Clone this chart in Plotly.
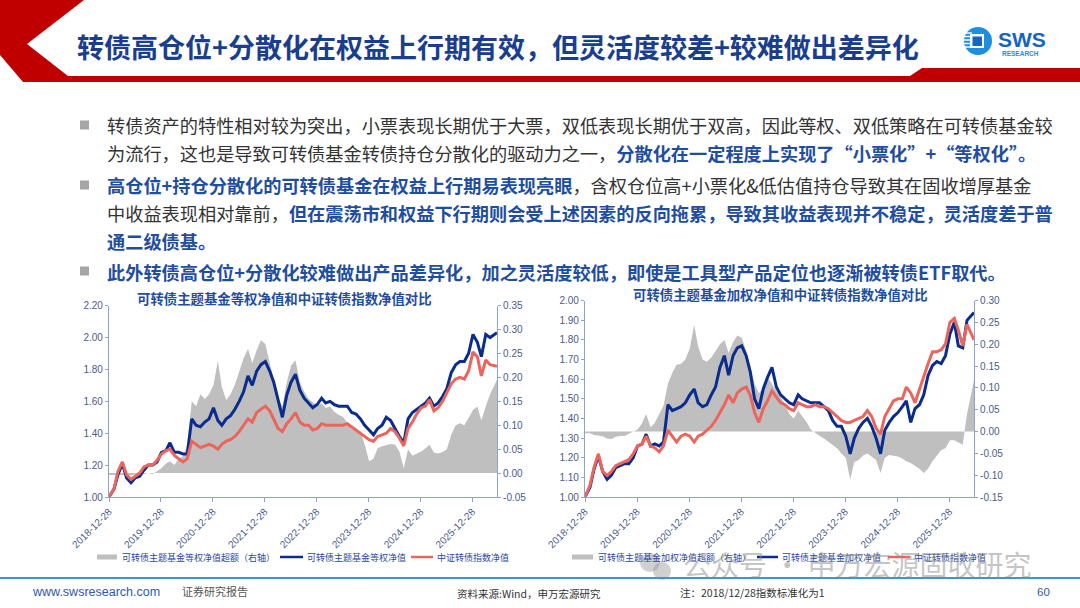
import plotly.graph_objects as go

W, H = 1080, 608


def X(px):
    return px / W


def Y(py):
    return 1 - py / H


# ---- data (month starts, 2018-12-28 = 1) ----
dates = [
    "2018-12-28",
    "2019-02", "2019-03", "2019-04", "2019-05", "2019-06", "2019-07", "2019-08", "2019-09", "2019-10", "2019-11", "2019-12",
    "2020-01", "2020-02", "2020-03", "2020-04", "2020-05", "2020-06", "2020-07", "2020-08", "2020-09", "2020-10", "2020-11", "2020-12",
    "2021-01", "2021-02", "2021-03", "2021-04", "2021-05", "2021-06", "2021-07", "2021-08", "2021-09", "2021-10", "2021-11", "2021-12",
    "2022-01", "2022-02", "2022-03", "2022-04", "2022-05", "2022-06", "2022-07", "2022-08", "2022-09", "2022-10", "2022-11", "2022-12",
    "2023-01", "2023-02", "2023-03", "2023-04", "2023-05", "2023-06", "2023-07", "2023-08", "2023-09", "2023-10", "2023-11", "2023-12",
    "2024-01", "2024-02", "2024-03", "2024-04", "2024-05", "2024-06", "2024-07", "2024-08", "2024-09", "2024-10", "2024-11", "2024-12",
    "2025-01", "2025-02", "2025-03", "2025-04", "2025-05", "2025-06", "2025-07", "2025-08", "2025-09", "2025-10", "2025-11", "2025-12",
    "2026-01", "2026-02", "2026-03", "2026-04", "2026-05",
    "2026-06-19",
]

eq_nav = [
    1.00, 1.05, 1.14, 1.21, 1.12, 1.09, 1.12, 1.13, 1.17, 1.20,
    1.20, 1.22, 1.28, 1.29, 1.34, 1.28, 1.28, 1.27, 1.27, 1.49,
    1.45, 1.44, 1.47, 1.49, 1.56, 1.48, 1.45, 1.49, 1.51, 1.55,
    1.60, 1.66, 1.76, 1.70, 1.79, 1.83, 1.85, 1.79, 1.72, 1.60,
    1.50, 1.64, 1.72, 1.77, 1.67, 1.62, 1.59, 1.56, 1.58, 1.62,
    1.59, 1.60, 1.58, 1.57, 1.57, 1.57, 1.53, 1.52, 1.49, 1.45,
    1.42, 1.39, 1.43, 1.45, 1.50, 1.48, 1.43, 1.38, 1.34, 1.49,
    1.53, 1.55, 1.57, 1.59, 1.62, 1.57, 1.59, 1.63, 1.68, 1.78,
    1.83, 1.85, 1.85, 1.90, 2.02, 1.97, 1.88, 2.02, 2.00, 2.03,
]
idx_nav_l = [
    1.00, 1.05, 1.16, 1.22, 1.14, 1.11, 1.13, 1.15, 1.19, 1.20,
    1.20, 1.23, 1.27, 1.29, 1.30, 1.26, 1.24, 1.22, 1.24, 1.35,
    1.33, 1.31, 1.32, 1.33, 1.32, 1.30, 1.33, 1.35, 1.36, 1.38,
    1.41, 1.45, 1.49, 1.47, 1.53, 1.55, 1.57, 1.54, 1.49, 1.43,
    1.41, 1.46, 1.49, 1.53, 1.47, 1.45, 1.45, 1.42, 1.43, 1.46,
    1.45, 1.45, 1.45, 1.45, 1.45, 1.46, 1.44, 1.42, 1.40, 1.38,
    1.36, 1.35, 1.38, 1.39, 1.40, 1.43, 1.41, 1.37, 1.32, 1.43,
    1.47, 1.52, 1.56, 1.57, 1.61, 1.54, 1.56, 1.60, 1.65, 1.71,
    1.74, 1.75, 1.74, 1.79, 1.91, 1.88, 1.76, 1.86, 1.83, 1.82,
]
eq_excess = [
    -0.004, -0.004, -0.004, -0.003, -0.004, -0.005, -0.003, 0.000, -0.002, 0.000,
    -0.002, 0.004, 0.010, 0.020, 0.025, 0.017, 0.030, 0.035, 0.060, 0.150,
    0.140, 0.165, 0.155, 0.165, 0.184, 0.235, 0.180, 0.153, 0.165, 0.185,
    0.210, 0.240, 0.260, 0.230, 0.257, 0.278, 0.270, 0.230, 0.200, 0.155,
    0.140, 0.190, 0.225, 0.236, 0.190, 0.170, 0.155, 0.148, 0.142, 0.146,
    0.136, 0.139, 0.128, 0.122, 0.118, 0.105, 0.092, 0.090, 0.088, 0.060,
    0.025, 0.030, 0.052, 0.056, 0.059, 0.061, 0.060, 0.045, 0.010, 0.050,
    0.036, 0.040, 0.045, 0.052, 0.059, 0.043, 0.041, 0.044, 0.050, 0.080,
    0.100, 0.104, 0.100, 0.115, 0.132, 0.139, 0.110, 0.140, 0.165, 0.195,
]

wt_nav = [
    1.00, 1.05, 1.14, 1.21, 1.13, 1.09, 1.11, 1.15, 1.16, 1.17,
    1.17, 1.20, 1.26, 1.27, 1.32, 1.26, 1.27, 1.26, 1.28, 1.47,
    1.44, 1.45, 1.46, 1.48, 1.52, 1.55, 1.48, 1.46, 1.47, 1.52,
    1.56, 1.66, 1.72, 1.62, 1.72, 1.76, 1.77, 1.72, 1.64, 1.50,
    1.45, 1.55, 1.61, 1.66, 1.56, 1.52, 1.50, 1.48, 1.47, 1.52,
    1.50, 1.49, 1.48, 1.48, 1.48, 1.46, 1.44, 1.39, 1.36, 1.36,
    1.31, 1.22, 1.30, 1.35, 1.38, 1.40, 1.36, 1.30, 1.22, 1.34,
    1.38, 1.41, 1.43, 1.46, 1.49, 1.38, 1.45, 1.47, 1.52, 1.62,
    1.67, 1.69, 1.68, 1.72, 1.83, 1.89, 1.77, 1.76, 1.90, 1.94,
]
idx_nav_r = [
    1.00, 1.06, 1.15, 1.22, 1.13, 1.11, 1.13, 1.16, 1.17, 1.18,
    1.19, 1.22, 1.26, 1.27, 1.31, 1.26, 1.25, 1.23, 1.26, 1.34,
    1.31, 1.28, 1.31, 1.32, 1.31, 1.28, 1.31, 1.32, 1.34, 1.36,
    1.39, 1.43, 1.47, 1.52, 1.48, 1.53, 1.55, 1.56, 1.52, 1.43,
    1.38, 1.45, 1.49, 1.54, 1.51, 1.48, 1.47, 1.45, 1.44, 1.48,
    1.47, 1.46, 1.46, 1.47, 1.46, 1.46, 1.45, 1.43, 1.41, 1.39,
    1.38, 1.38, 1.39, 1.40, 1.41, 1.44, 1.41, 1.35, 1.32, 1.41,
    1.45, 1.49, 1.50, 1.50, 1.56, 1.53, 1.48, 1.55, 1.61, 1.68,
    1.74, 1.74, 1.75, 1.78, 1.89, 1.91, 1.85, 1.77, 1.88, 1.80,
]
wt_excess = [
    -0.004, -0.004, -0.008, -0.010, -0.011, -0.016, -0.017, -0.012, -0.010, -0.010,
    -0.005, 0.000, 0.005, 0.019, 0.040, 0.010, 0.020, 0.040, 0.060, 0.110,
    0.135, 0.153, 0.155, 0.165, 0.190, 0.245, 0.195, 0.165, 0.160, 0.170,
    0.185, 0.200, 0.210, 0.180, 0.205, 0.220, 0.215, 0.185, 0.150, 0.110,
    0.088, 0.100, 0.125, 0.110, 0.095, 0.080, 0.063, 0.040, 0.030, 0.048,
    0.036, 0.022, 0.005, -0.003, -0.010, -0.016, -0.024, -0.030, -0.038, -0.050,
    -0.060, -0.110, -0.070, -0.065, -0.055, -0.050, -0.057, -0.065, -0.095, -0.060,
    -0.054, -0.055, -0.057, -0.062, -0.068, -0.072, -0.078, -0.085, -0.095, -0.085,
    -0.068, -0.055, -0.042, -0.038, -0.020, -0.020, -0.025, -0.030, 0.040, 0.118,
]

x_ticks = ["2018-12-28", "2019-12-28", "2020-12-28", "2021-12-28",
           "2022-12-28", "2023-12-28", "2024-12-28", "2025-12-28"]

l_nav_ticks = [1.0, 1.2, 1.4, 1.6, 1.8, 2.0, 2.2]
l_nav_text = ["1.00", "1.20", "1.40", "1.60", "1.80", "2.00", "2.20"]
l_exc_ticks = [-0.05, 0.0, 0.05, 0.10, 0.15, 0.20, 0.25, 0.30, 0.35]
l_exc_text = ["-0.05", "0.00", "0.05", "0.10", "0.15", "0.20", "0.25", "0.30", "0.35"]

r_nav_ticks = [1.0, 1.1, 1.2, 1.3, 1.4, 1.5, 1.6, 1.7, 1.8, 1.9, 2.0]
r_nav_text = ["1.00", "1.10", "1.20", "1.30", "1.40", "1.50", "1.60", "1.70", "1.80", "1.90", "2.00"]
r_exc_ticks = [-0.15, -0.10, -0.05, 0.0, 0.05, 0.10, 0.15, 0.20, 0.25, 0.30]
r_exc_text = ["-0.15", "-0.10", "-0.05", "0.00", "0.05", "0.10", "0.15", "0.20", "0.25", "0.30"]

left_names = ["可转债主题基金等权净值超额（右轴）", "可转债主题基金等权净值", "中证转债指数净值"]
right_names = ["可转债主题基金加权净值超额（右轴）", "可转债主题基金加权净值", "中证转债指数净值"]

NAVY = "#0A2C8C"
SALMON = "#EC655D"
GREY = "#BFBFBF"
TXT_BLUE = "#1F4E9E"
AXIS = "#8FA2CE"
TICK = "#4A5B8E"
FONT = "Noto Sans CJK SC"

fig = go.Figure()

# left chart: excess area on y (right side), lines on y2 (left side, drawn on top)
fig.add_trace(go.Scatter(x=dates, y=eq_excess, name=left_names[0], mode="lines",
                         line=dict(width=0, color=GREY), fill="tozeroy", fillcolor=GREY,
                         xaxis="x", yaxis="y"))
fig.add_trace(go.Scatter(x=dates, y=eq_nav, name=left_names[1], mode="lines",
                         line=dict(color=NAVY, width=3), xaxis="x", yaxis="y2"))
fig.add_trace(go.Scatter(x=dates, y=idx_nav_l, name=left_names[2], mode="lines",
                         line=dict(color=SALMON, width=3), xaxis="x", yaxis="y2"))

# right chart
fig.add_trace(go.Scatter(x=dates, y=wt_excess, name=right_names[0], mode="lines",
                         line=dict(width=0, color=GREY), fill="tozeroy", fillcolor=GREY,
                         xaxis="x2", yaxis="y3"))
fig.add_trace(go.Scatter(x=dates, y=wt_nav, name=right_names[1], mode="lines",
                         line=dict(color=NAVY, width=3), xaxis="x2", yaxis="y4"))
fig.add_trace(go.Scatter(x=dates, y=idx_nav_r, name=right_names[2], mode="lines",
                         line=dict(color=SALMON, width=3), xaxis="x2", yaxis="y4"))

tickfont = dict(family="Liberation Sans", size=10, color=TICK)
xcommon = dict(type="date", range=["2018-12-28", "2026-06-19"], tickvals=x_ticks, ticktext=x_ticks,
               tickangle=-45, showline=True, linecolor=AXIS, linewidth=1.2, ticks="outside",
               ticklen=4, tickcolor=AXIS, showgrid=False, zeroline=False, tickfont=tickfont,
               automargin=False)
ycommon = dict(showline=True, linecolor=AXIS, linewidth=1.2, ticks="outside", ticklen=3,
               tickcolor=AXIS, showgrid=False, zeroline=False, tickfont=tickfont,
               automargin=False)

fig.update_layout(
    xaxis=dict(domain=[X(109), X(497)], anchor="y", **xcommon),
    yaxis=dict(domain=[Y(497), Y(305.7)], anchor="x", side="right", range=[-0.05, 0.35],
               tickvals=l_exc_ticks, ticktext=l_exc_text, **ycommon),
    yaxis2=dict(overlaying="y", anchor="x", side="left", range=[1.0, 2.2],
                tickvals=l_nav_ticks, ticktext=l_nav_text, **ycommon),
    xaxis2=dict(domain=[X(585), X(974)], anchor="y3", **xcommon),
    yaxis3=dict(domain=[Y(497), Y(300.7)], anchor="x2", side="right", range=[-0.15, 0.30],
                tickvals=r_exc_ticks, ticktext=r_exc_text, **ycommon),
    yaxis4=dict(overlaying="y3", anchor="x2", side="left", range=[1.0, 2.0],
                tickvals=r_nav_ticks, ticktext=r_nav_text, **ycommon),
    showlegend=False,
)

shapes = []
# header red band with chevron
red_pts = [(0, 0), (84, 0), (27, 44), (68, 76), (910, 76), (922, 68), (1080, 68),
           (1080, 82), (23, 82), (0, 55)]
path = "M " + " L ".join(f"{X(a):.5f},{Y(b):.5f}" for a, b in red_pts) + " Z"
shapes.append(dict(type="path", xref="paper", yref="paper", path=path,
                   fillcolor="#C00000", line=dict(width=0), layer="below"))

# SWS logo
shapes.append(dict(type="circle", xref="paper", yref="paper", x0=X(964), x1=X(992),
                   y0=Y(55), y1=Y(27), fillcolor="#1E8FE0", line=dict(width=0)))
for yy in [33, 36.5, 40, 43.5, 47]:
    shapes.append(dict(type="line", xref="paper", yref="paper", x0=X(964), x1=X(972),
                       y0=Y(yy), y1=Y(yy), line=dict(color="white", width=1.4)))
shapes.append(dict(type="rect", xref="paper", yref="paper", x0=X(970), x1=X(984),
                   y0=Y(48), y1=Y(34), fillcolor="white", line=dict(width=0)))
shapes.append(dict(type="rect", xref="paper", yref="paper", x0=X(972.5), x1=X(982),
                   y0=Y(46), y1=Y(36.5), fillcolor="#1565C0", line=dict(width=0)))

# bullets
for yy in [125, 185, 271]:
    shapes.append(dict(type="rect", xref="paper", yref="paper", x0=X(80), x1=X(89),
                       y0=Y(yy + 4.5), y1=Y(yy - 4.5), fillcolor="#A6A6A6", line=dict(width=0)))

# legend keys drawn under each chart
LEG_Y = 557
for x0, x1, color, width in [(97, 117, GREY, 5), (280, 303, NAVY, 2.5), (411, 433, SALMON, 2.5),
                             (572, 593, GREY, 5), (757, 778, NAVY, 2.5), (888, 910, SALMON, 2.5)]:
    shapes.append(dict(type="line", xref="paper", yref="paper", x0=X(x0), x1=X(x1),
                       y0=Y(LEG_Y), y1=Y(LEG_Y), line=dict(color=color, width=width)))

# watermark wechat icon
shapes.append(dict(type="circle", xref="paper", yref="paper", x0=X(640), x1=X(660),
                   y0=Y(572), y1=Y(553), fillcolor="rgba(150,150,150,0.45)", line=dict(width=0)))
shapes.append(dict(type="circle", xref="paper", yref="paper", x0=X(653), x1=X(671),
                   y0=Y(580), y1=Y(562), fillcolor="rgba(150,150,150,0.45)", line=dict(width=0)))

# footer line
shapes.append(dict(type="line", xref="paper", yref="paper", x0=0, x1=1, y0=Y(578), y1=Y(578),
                   line=dict(color="#3D95D2", width=2)))
fig.update_layout(shapes=shapes)

B = TXT_BLUE


def blue(s):
    return f"<span style='color:{B}'><b>{s}</b></span>"


ann = []


def text(x, y, s, size, color="#333333", xanchor="left", family=FONT):
    ann.append(dict(x=X(x), y=Y(y), xref="paper", yref="paper", text=s, showarrow=False,
                    xanchor=xanchor, yanchor="middle", align="left",
                    font=dict(family=family, size=size, color=color)))


text(75, 46, "<b>转债高仓位+分散化在权益上行期有效，但灵活度较差+较难做出差异化</b>", 27, "#1A3E8E")
text(996, 39, "<b>SWS</b>", 21, "#1565C0", family="Liberation Sans")
text(1000, 54, "<b>RESEARCH</b>", 6.5, "#1E8FE0", family="Liberation Sans")

fs = 18.2
text(105, 125, "转债资产的特性相对较为突出，小票表现长期优于大票，双低表现长期优于双高，因此等权、双低策略在可转债基金较", fs)
text(105, 153, "为流行，这也是导致可转债基金转债持仓分散化的驱动力之一，"
     + blue("分散化在一定程度上实现了“小票化”+“等权化”。"), fs)
text(105, 185, blue("高仓位+持仓分散化的可转债基金在权益上行期易表现亮眼")
     + "，含权仓位高+小票化&低估值持仓导致其在固收增厚基金", fs)
text(105, 213, "中收益表现相对靠前，"
     + blue("但在震荡市和权益下行期则会受上述因素的反向拖累，导致其收益表现并不稳定，灵活度差于普"), fs)
text(105, 241, blue("通二级债基。"), fs)
text(105, 272, blue("此外转债高仓位+分散化较难做出产品差异化，加之灵活度较低，即使是工具型产品定位也逐渐被转债ETF取代。"), fs)

# chart titles
text(284, 298, "<b>可转债主题基金等权净值和中证转债指数净值对比</b>", 13.4, B, xanchor="center")
text(780, 294, "<b>可转债主题基金加权净值和中证转债指数净值对比</b>", 13.4, B, xanchor="center")

# legend labels
LEG_C = "#2A4A9E"
for x, name in zip([120, 305, 435], left_names):
    text(x, LEG_Y, name, 9, LEG_C)
for x, name in zip([596, 780, 912], right_names):
    text(x, LEG_Y, name, 9, LEG_C)

# watermark
text(681, 564, "公众号 · 申万宏源固收研究", 28, "rgba(140,140,140,0.5)")

# footer
text(30, 592, "www.swsresearch.com", 12.5, "#2E5AA8", family="Liberation Sans")
text(180, 591, "证券研究报告", 11, "#555555")
text(455, 593, "资料来源:Wind，申万宏源研究", 10.5, "#333333")
text(678, 592, "注：2018/12/28指数标准化为1", 10.5, "#333333")
text(1052, 592, "60", 11.5, "#2E5AA8", xanchor="right", family="Liberation Sans")

fig.update_layout(
    annotations=ann,
    width=W, height=H,
    margin=dict(l=0, r=0, t=0, b=0, autoexpand=False),
    paper_bgcolor="white", plot_bgcolor="rgba(0,0,0,0)",
    font=dict(family=FONT),
)

# the page body has a default 8px margin; drop it so the slide sits at the window corner
fig.write_html("out.html", config={"displayModeBar": False},
               post_script="document.body.style.margin='0';")
